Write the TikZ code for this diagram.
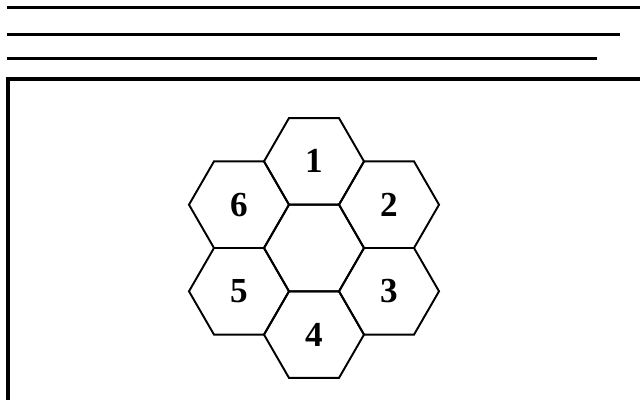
\documentclass[tikz,border=0pt]{standalone}
\usepackage{fontspec}
\setmainfont{Liberation Serif}
\usetikzlibrary{shapes.geometric}

\begin{document}
\begin{tikzpicture}[x=0.04cm, y=0.04cm,
    hexa/.style={regular polygon, regular polygon sides=6,
        draw, line width=2.2pt, inner sep=0pt, outer sep=0pt, minimum size=4cm,
        font=\fontsize{40}{44}\selectfont\bfseries},
    rule/.style={line width=3.4pt}]

    % パラメータの定義
    \pgfmathsetmacro{\r}{50}
    \pgfmathsetmacro{\d}{sqrt(3)*\r}

    % 枠の設定
    \useasboundingbox (0,0) rectangle (640,400);
    \clip (0,0) rectangle (640,400);

    % 点の定義
    \coordinate (O) at (314,152);
    \coordinate (L1) at (7,392);
    \coordinate (L2) at (7,365);
    \coordinate (L3) at (7,341);
    \coordinate (BL) at (8,-10);
    \coordinate (TR) at (650,321);

    % 線分の描画
    \draw [rule] (L1) -- ++(640,0);
    \draw [rule] (L2) -- ++(613,0);
    \draw [rule] (L3) -- ++(590,0);
    \draw [line width=3.8pt] (BL) |- (TR);

    % 六角形の描画
    \node [hexa] (h0) at (O) {};
    \foreach \n/\a in {1/90, 2/30, 3/-30, 4/-90, 5/-150, 6/150}
        \node [hexa] (h\n) at ([shift={(\a:\d)}]O) {\n};

\end{tikzpicture}
\end{document}
